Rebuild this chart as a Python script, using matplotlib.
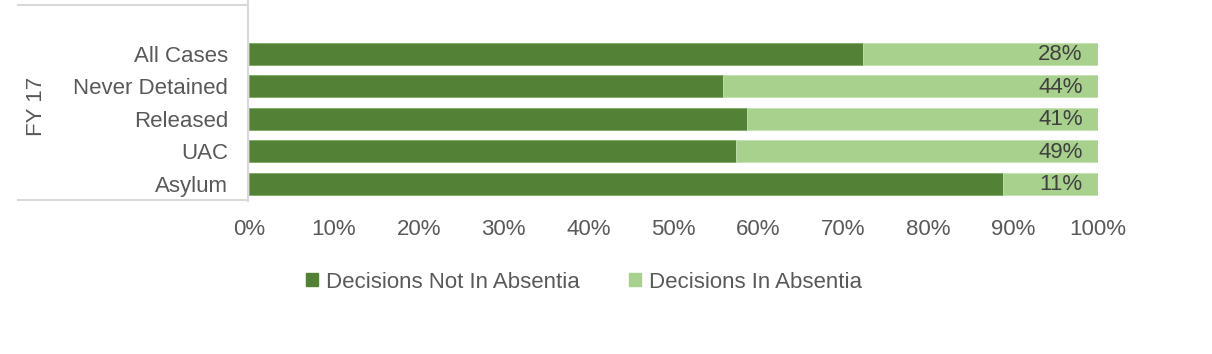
import matplotlib
matplotlib.use("Agg")
import matplotlib.pyplot as plt
from matplotlib.lines import Line2D
from matplotlib.patches import Patch

categories = ["All Cases", "Never Detained", "Released", "UAC", "Asylum"]
not_absentia = [72.3, 55.8, 58.7, 57.4, 88.8]
in_absentia = [27.7, 44.2, 41.3, 42.6, 11.2]
labels = ["28%", "44%", "41%", "49%", "11%"]
group_label = "FY 17"
series_names = ["Decisions Not In Absentia", "Decisions In Absentia"]
xticks = [0, 10, 20, 30, 40, 50, 60, 70, 80, 90, 100]

dark = "#538135"
light = "#A9D18E"
txt = "#595959"
font = ["Liberation Sans", "DejaVu Sans"]
plt.rcParams["font.family"] = font
fs = 16

W, H = 1212, 354
fig = plt.figure(figsize=(W / 100, H / 100), dpi=100)
ax = fig.add_axes([249 / W, 1 - 200 / H, 849 / W, 195 / H])

y = list(range(len(categories)))
ax.barh(y, not_absentia, height=0.67, color=dark, edgecolor="#7fa862", linewidth=0.6)
ax.barh(y, in_absentia, left=not_absentia, height=0.67, color=light, edgecolor="#c4e0b0", linewidth=0.6)
for yi, lab in zip(y, labels):
    ax.text(98.2, yi + 0.03, lab, ha="right", va="center", fontsize=fs, color="#404040")

ax.set_xlim(0, 100)
ax.set_ylim(4.5, -1.5)
ax.set_yticks(y)
ax.set_yticklabels(categories, fontsize=fs, color=txt)
ax.set_xticks(xticks)
ax.set_xticklabels([f"{v}%" for v in xticks], fontsize=fs, color=txt)
ax.tick_params(axis="y", length=0, pad=15)
ax.tick_params(axis="x", length=0, pad=14)
for s in ["top", "right", "bottom", "left"]:
    ax.spines[s].set_visible(False)

gray = "#d9d9d9"
fig.add_artist(Line2D([248 / W, 248 / W], [1 - 0 / H, 1 - 201 / H], color=gray, lw=1.5))
fig.add_artist(Line2D([18 / W, 248 / W], [1 - 5 / H, 1 - 5 / H], color=gray, lw=1.5))
fig.add_artist(Line2D([18 / W, 248 / W], [1 - 200 / H, 1 - 200 / H], color=gray, lw=1.5))
fig.text(36 / W, 1 - 106 / H, group_label, rotation=90, ha="center", va="center", fontsize=fs, color=txt)

handles = [Patch(color=dark), Patch(color=light)]
fig.legend(handles, series_names, loc="center", bbox_to_anchor=(584 / W, 1 - 282 / H), ncol=2,
           frameon=False, fontsize=fs, labelcolor=txt, handlelength=0.55, handleheight=0.55,
           handletextpad=0.35, columnspacing=2.2)

fig.savefig("out.png", dpi=100, facecolor="white")
